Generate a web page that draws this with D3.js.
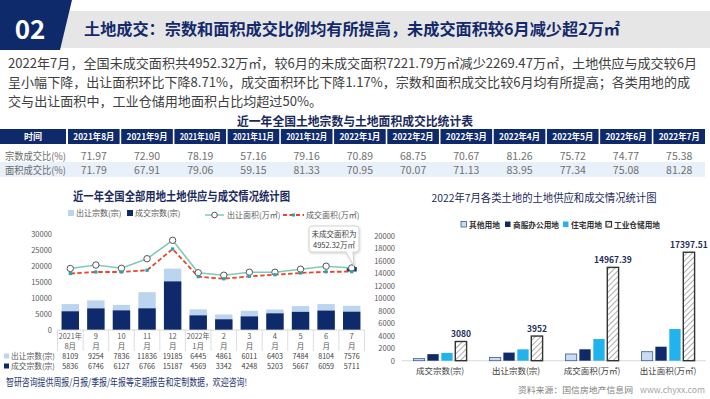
<!DOCTYPE html>
<html>
<head>
<meta charset="utf-8">
<script src="https://cdn.jsdelivr.net/npm/d3@7"></script>
<style>
  body { margin: 0; background: #fff; }
  text { font-family: "Noto Sans CJK SC", "Noto Sans", sans-serif; }
</style>
</head>
<body>
<script>
// ---- data ----
const tableMonths = ["2021年8月", "2021年9月", "2021年10月", "2021年11月", "2021年12月", "2022年1月",
  "2022年2月", "2022年3月", "2022年4月", "2022年5月", "2022年6月", "2022年7月"];
const countDealRatio = [71.97, 72.90, 78.19, 57.16, 79.16, 70.89, 68.75, 70.67, 81.26, 75.72, 74.77, 75.38];
const areaDealRatio = [71.79, 67.91, 79.06, 59.15, 81.33, 70.95, 70.07, 71.13, 83.95, 77.34, 75.08, 81.28];

const monthLabels = [["2021年", "8月"], ["9", "月"], ["10", "月"], ["11", "月"], ["12", "月"], ["2022年", "1月"],
  ["2", "月"], ["3", "月"], ["4", "月"], ["5", "月"], ["6", "月"], ["7", "月"]];
const supplyCount = [8109, 9254, 7836, 11836, 19185, 6445, 4861, 6011, 6403, 7484, 8104, 7576];
const dealCount = [5836, 6746, 6127, 6766, 15187, 4569, 3342, 4248, 5203, 5667, 6059, 5711];
// area lines, read against the left axis of the picture
const supplyArea = [19220, 20310, 19280, 22280, 28030, 17900, 17120, 18060, 18060, 19000, 19940, 19380];
const dealArea = [17660, 18125, 18125, 18660, 25310, 16660, 16000, 16780, 17280, 17810, 18190, 18220];

const landTypes = ["其他用地", "商服办公用地", "住宅用地", "工业仓储用地"];
const metrics = ["成交宗数(宗)", "出让宗数(宗)", "成交面积(万㎡)", "出让面积(万㎡)"];
const otherLand = [330, 500, 1074, 1442];
const commercialLand = [1050, 1300, 1827, 2244];
const residentialLand = [1250, 1824, 3477, 5080];
const industrialLand = [3080, 3952, 14967.39, 17397.51];

const navy = "#0f2a6b";
const gray = "#595959";

const svg = d3.select("body").append("svg").attr("width", 710).attr("height", 399);

// hatch pattern for industrial bars
const defs = svg.append("defs");
const hatch = defs.append("pattern")
  .attr("id", "hatch").attr("patternUnits", "userSpaceOnUse")
  .attr("width", 4).attr("height", 4).attr("patternTransform", "rotate(45)");
hatch.append("rect").attr("width", 4).attr("height", 4).attr("fill", "#fff");
hatch.append("line").attr("x1", 0).attr("y1", 0).attr("x2", 0).attr("y2", 4)
  .attr("stroke", "#8a8a8a").attr("stroke-width", 1.4);
const shadow = defs.append("filter").attr("id", "shadow").attr("x", "-20%").attr("y", "-20%")
  .attr("width", "140%").attr("height", "150%");
shadow.append("feDropShadow").attr("dx", 0.5).attr("dy", 1).attr("stdDeviation", 1)
  .attr("flood-color", "#000").attr("flood-opacity", 0.2);

// ---- header ----
svg.append("rect").attr("x", 55).attr("y", 11).attr("width", 655).attr("height", 37).attr("fill", "#e6e6e6");
svg.append("polygon").attr("points", "0,0 72,0 60,50 0,50").attr("fill", navy);
svg.append("text").attr("x", 30).attr("y", 39).attr("text-anchor", "middle")
  .style("font-size", "26px").style("font-weight", "bold").attr("fill", "#fff").text("02");
svg.append("text").attr("x", 84).attr("y", 35)
  .attr("textLength", 536).attr("lengthAdjust", "spacingAndGlyphs")
  .style("font-size", "16px").style("font-weight", "bold").attr("fill", "#13296b")
  .text("土地成交：宗数和面积成交比例均有所提高，未成交面积较6月减少超2万㎡");

const paragraph = [
  { t: "2022年7月，全国未成交面积共4952.32万㎡，较6月的未成交面积7221.79万㎡减少2269.47万㎡，土地供应与成交较6月", w: 689 },
  { t: "呈小幅下降，出让面积环比下降8.71%，成交面积环比下降1.17%，宗数和面积成交比较6月均有所提高；各类用地的成", w: 682 },
  { t: "交与出让面积中，工业仓储用地面积占比均超过50%。", w: 314 }
];
paragraph.forEach((p, i) => {
  svg.append("text").attr("x", 8).attr("y", 68 + i * 19)
    .attr("textLength", p.w).attr("lengthAdjust", "spacingAndGlyphs")
    .style("font-size", "13px").attr("fill", "#404040").text(p.t);
});

// ---- ratio table ----
svg.append("text").attr("x", 355).attr("y", 126).attr("text-anchor", "middle")
  .attr("textLength", 236).attr("lengthAdjust", "spacingAndGlyphs")
  .style("font-size", "12.5px").style("font-weight", "bold").attr("fill", "#1b2a5c")
  .text("近一年全国土地宗数与土地面积成交比统计表");

const tx = d3.scaleBand().domain(tableMonths).range([68, 705]).paddingInner(0.03);
svg.append("rect").attr("x", 0).attr("y", 162).attr("width", 705).attr("height", 15).attr("fill", "#e8f0fa");
svg.append("rect").attr("x", 0).attr("y", 129).attr("width", 66).attr("height", 15).attr("fill", navy);
svg.append("text").attr("x", 33).attr("y", 140).attr("text-anchor", "middle")
  .style("font-size", "9px").style("font-weight", "bold").attr("fill", "#fff").text("时间");
const th = svg.append("g").selectAll("g").data(tableMonths).enter().append("g");
th.append("rect").attr("x", (d) => tx(d)).attr("y", 129)
  .attr("width", tx.bandwidth()).attr("height", 15).attr("fill", navy);
th.append("text").attr("x", (d) => tx(d) + tx.bandwidth() / 2).attr("y", 140)
  .attr("text-anchor", "middle").style("font-size", "8.8px").style("font-weight", "bold")
  .attr("textLength", (d) => (d.length > 8 ? 46 : 41)).attr("lengthAdjust", "spacingAndGlyphs")
  .attr("fill", "#fff").text((d) => d);

[{ label: "宗数成交比(%)", vals: countDealRatio, y: 159.5 },
 { label: "面积成交比(%)", vals: areaDealRatio, y: 173.5 }].forEach((row) => {
  svg.append("text").attr("x", 5).attr("y", row.y)
    .attr("textLength", 61).attr("lengthAdjust", "spacingAndGlyphs")
    .style("font-size", "10px").attr("fill", "#6b6b6b").text(row.label);
  svg.append("g").selectAll("text").data(row.vals).enter().append("text")
    .attr("x", (d, i) => tx(tableMonths[i]) + tx.bandwidth() / 2).attr("y", row.y)
    .attr("text-anchor", "middle").style("font-size", "10.5px").attr("fill", "#707070")
    .text((d) => d.toFixed(2));
});

// ---- left chart ----
svg.append("text").attr("x", 181.5).attr("y", 201).attr("text-anchor", "middle")
  .attr("textLength", 217).attr("lengthAdjust", "spacingAndGlyphs")
  .style("font-size", "12px").style("font-weight", "bold").attr("fill", "#1b2a5c")
  .text("近一年全国全部用地土地供应与成交情况统计图");

const xL = d3.scaleBand().domain(d3.range(12)).range([57.5, 364.5]).paddingInner(0.32).paddingOuter(0.16);
const yL = d3.scaleLinear().domain([0, 30000]).range([330, 234]);
const cx = (i) => xL(i) + xL.bandwidth() / 2;

const axL = svg.append("g").attr("transform", "translate(53,0)")
  .call(d3.axisLeft(yL).tickValues(d3.range(0, 30001, 5000)).tickSize(0).tickPadding(1).tickFormat(d3.format("d")));
axL.select(".domain").remove();
axL.selectAll("text").style("font-size", "7.5px").attr("fill", gray)
  .style("font-family", "'Noto Sans CJK SC', sans-serif");

// legends
const lg = svg.append("g").style("font-size", "8px");
lg.append("rect").attr("x", 68).attr("y", 210).attr("width", 6).attr("height", 6).attr("fill", "#bcd5ee");
lg.append("text").attr("x", 76).attr("y", 216).attr("fill", gray).text("出让宗数(宗)");
lg.append("rect").attr("x", 127).attr("y", 210).attr("width", 6).attr("height", 6).attr("fill", navy);
lg.append("text").attr("x", 135).attr("y", 216).attr("fill", gray).text("成交宗数(宗)");
lg.append("line").attr("x1", 205).attr("x2", 224).attr("y1", 215).attr("y2", 215)
  .attr("stroke", "#7fcab6").attr("stroke-width", 1.5);
lg.append("circle").attr("cx", 214.5).attr("cy", 215).attr("r", 2.8)
  .attr("fill", "#fff").attr("stroke", "#555").attr("stroke-width", 1);
lg.append("text").attr("x", 227).attr("y", 218).attr("fill", gray).text("出让面积(万㎡)");
lg.append("line").attr("x1", 283).attr("x2", 304).attr("y1", 215).attr("y2", 215)
  .attr("stroke", "#e8452c").attr("stroke-width", 1.8).attr("stroke-dasharray", "4,2.5");
lg.append("rect").attr("x", 292).attr("y", 213.5).attr("width", 3).attr("height", 3).attr("fill", "#2aa3b3");
lg.append("text").attr("x", 306).attr("y", 218).attr("fill", gray).text("成交面积(万㎡)");

// bars (overlapping, both from zero)
svg.append("g").selectAll("rect").data(supplyCount).enter().append("rect")
  .attr("x", (d, i) => xL(i)).attr("y", (d) => yL(d))
  .attr("width", xL.bandwidth()).attr("height", (d) => yL(0) - yL(d)).attr("fill", "#bcd5ee");
svg.append("g").selectAll("rect").data(dealCount).enter().append("rect")
  .attr("x", (d, i) => xL(i)).attr("y", (d) => yL(d))
  .attr("width", xL.bandwidth()).attr("height", (d) => yL(0) - yL(d)).attr("fill", navy);

// small highlight at last point
svg.append("rect").attr("x", cx(11) - 5).attr("y", yL(supplyArea[11]) - 1)
  .attr("width", 10).attr("height", 4.5).attr("fill", navy);

// lines
const lineGen = d3.line().x((d, i) => cx(i)).y((d) => yL(d));
svg.append("path").datum(supplyArea).attr("d", lineGen)
  .attr("fill", "none").attr("stroke", "#7fcab6").attr("stroke-width", 1.6);
svg.append("path").datum(dealArea).attr("d", lineGen)
  .attr("fill", "none").attr("stroke", "#e8452c").attr("stroke-width", 1.8).attr("stroke-dasharray", "4.5,2.5");
svg.append("g").selectAll("circle").data(supplyArea).enter().append("circle")
  .attr("cx", (d, i) => cx(i)).attr("cy", (d) => yL(d)).attr("r", 3.2)
  .attr("fill", "#fff").attr("stroke", "#555").attr("stroke-width", 1);
svg.append("g").selectAll("rect").data(dealArea).enter().append("rect")
  .attr("x", (d, i) => cx(i) - 1.6).attr("y", (d) => yL(d) - 1.6)
  .attr("width", 3.2).attr("height", 3.2).attr("fill", "#2aa3b3");

// callout
const co = svg.append("g");
co.append("path")
  .attr("d", "M312,226 H356 Q359,226 359,229 V249 Q359,252 356,252 H353 L354,266 L346,252 H312 Q309,252 309,249 V229 Q309,226 312,226 Z")
  .attr("fill", "#fff").attr("stroke", "#c8c8c8").attr("stroke-width", 0.8).attr("filter", "url(#shadow)");
co.append("text").attr("x", 334).attr("y", 237).attr("text-anchor", "middle")
  .style("font-size", "7.5px").attr("fill", "#404040").text("未成交面积为");
co.append("text").attr("x", 334).attr("y", 248).attr("text-anchor", "middle")
  .style("font-size", "7.5px").attr("fill", "#404040").text("4952.32万㎡");

// data table under the left chart
const edges = d3.range(13).map((k) => 57.5 + k * xL.step());
svg.append("line").attr("x1", 57.5).attr("x2", 364.5).attr("y1", 330).attr("y2", 330)
  .attr("stroke", "#d0d0d0").attr("stroke-width", 0.8);
svg.append("g").selectAll("line").data(edges).enter().append("line")
  .attr("x1", (d) => d).attr("x2", (d) => d).attr("y1", 330).attr("y2", 351)
  .attr("stroke", "#d5d5d5").attr("stroke-width", 0.8);
const ml = svg.append("g").selectAll("g").data(monthLabels).enter().append("g");
ml.append("text").attr("x", (d, i) => cx(i)).attr("y", 339).attr("text-anchor", "middle")
  .attr("textLength", (d) => (d[0].length > 3 ? 23 : null)).attr("lengthAdjust", "spacingAndGlyphs")
  .style("font-size", "7.5px").attr("fill", gray).text((d) => d[0]);
ml.append("text").attr("x", (d, i) => cx(i)).attr("y", 349).attr("text-anchor", "middle")
  .style("font-size", "7.5px").attr("fill", gray).text((d) => d[1]);

[{ label: "出让宗数(宗)", color: "#bcd5ee", vals: supplyCount, y: 359 },
 { label: "成交宗数(宗)", color: navy, vals: dealCount, y: 369 }].forEach((row) => {
  svg.append("rect").attr("x", 4).attr("y", row.y - 5.5).attr("width", 5).attr("height", 5).attr("fill", row.color);
  svg.append("text").attr("x", 11).attr("y", row.y)
    .attr("textLength", 44).attr("lengthAdjust", "spacingAndGlyphs")
    .style("font-size", "7.5px").attr("fill", gray).text(row.label);
  svg.append("g").selectAll("text").data(row.vals).enter().append("text")
    .attr("x", (d, i) => cx(i)).attr("y", row.y).attr("text-anchor", "middle")
    .style("font-size", "7.2px").attr("fill", "#404040").text((d) => d);
});

// ---- right chart ----
svg.append("text").attr("x", 544).attr("y", 202).attr("text-anchor", "middle")
  .attr("textLength", 225).attr("lengthAdjust", "spacingAndGlyphs")
  .style("font-size", "11px").attr("fill", "#1b2a5c")
  .text("2022年7月各类土地的土地供应和成交情况统计图");

const series = [otherLand, commercialLand, residentialLand, industrialLand];
const fills = ["#c9dcf2", navy, "#22b3ef", "url(#hatch)"];
const strokes = ["#3c5a94", "none", "none", "#333"];
const strokeW = [0.8, 0, 0, 1.4];

const xR = d3.scaleBand().domain(metrics).range([402, 706]).paddingInner(0.3).paddingOuter(0.15);
const xT = d3.scaleBand().domain(landTypes).range([0, xR.bandwidth()]).paddingInner(0.19);
const yR = d3.scaleLinear().domain([0, 20000]).range([360.7, 236]);

const axR = svg.append("g").attr("transform", "translate(396,0)")
  .call(d3.axisLeft(yR).tickValues(d3.range(0, 20001, 2000)).tickSize(0).tickPadding(1).tickFormat(d3.format("d")));
axR.select(".domain").remove();
axR.selectAll("text").style("font-size", "7.5px").attr("fill", gray)
  .style("font-family", "'Noto Sans CJK SC', sans-serif");

svg.append("line").attr("x1", 402).attr("x2", 706).attr("y1", yR(0)).attr("y2", yR(0))
  .attr("stroke", "#d9d9d9").attr("stroke-width", 1);

// legend
const legR = [
  { x: 461, tw: 31 }, { x: 505, tw: 46 }, { x: 563, tw: 31 }, { x: 606, tw: 46 }
];
landTypes.forEach((t, k) => {
  svg.append("rect").attr("x", legR[k].x).attr("y", 221.5).attr("width", 5.5).attr("height", 5.5)
    .attr("fill", k === 3 ? "url(#hatch)" : fills[k])
    .attr("stroke", k === 0 ? "#3c5a94" : k === 3 ? "#333" : "none").attr("stroke-width", k === 3 ? 1.2 : 0.8);
  svg.append("text").attr("x", legR[k].x + 8).attr("y", 227.5)
    .attr("textLength", legR[k].tw).attr("lengthAdjust", "spacingAndGlyphs")
    .style("font-size", "8px").style("font-weight", "bold").attr("fill", "#333").text(t);
});

series.forEach((vals, k) => {
  svg.append("g").selectAll("rect").data(vals).enter().append("rect")
    .attr("x", (d, i) => xR(metrics[i]) + xT(landTypes[k]))
    .attr("y", (d) => yR(d))
    .attr("width", xT.bandwidth())
    .attr("height", (d) => yR(0) - yR(d))
    .attr("fill", fills[k]).attr("stroke", strokes[k]).attr("stroke-width", strokeW[k]);
});

svg.append("g").selectAll("text").data(industrialLand).enter().append("text")
  .attr("x", (d, i) => xR(metrics[i]) + xT(landTypes[3]) + xT.bandwidth() / 2)
  .attr("y", (d) => yR(d) - 4).attr("text-anchor", "middle")
  .style("font-size", "8.5px").style("font-weight", "bold").attr("fill", "#1f2d5a")
  .text((d) => (Number.isInteger(d) ? d : d.toFixed(2)));

svg.append("g").selectAll("text").data(metrics).enter().append("text")
  .attr("x", (d) => xR(d) + xR.bandwidth() / 2).attr("y", 374).attr("text-anchor", "middle")
  .style("font-size", "8.5px").attr("fill", "#404040").text((d) => d);

// ---- footer ----
svg.append("text").attr("x", 6).attr("y", 385.5)
  .attr("textLength", 241).attr("lengthAdjust", "spacingAndGlyphs")
  .style("font-size", "10px").attr("fill", "#1e3470")
  .text("智研咨询提供周报/月报/季报/年报等定期报告和定制数据，欢迎咨询!");
svg.append("text").attr("x", 518).attr("y", 393)
  .attr("textLength", 115).attr("lengthAdjust", "spacingAndGlyphs")
  .style("font-size", "8.5px").attr("fill", "#7f7f7f").text("资料来源：国信房地产信息网");
svg.append("text").attr("x", 640).attr("y", 393)
  .attr("textLength", 65).attr("lengthAdjust", "spacingAndGlyphs")
  .style("font-size", "8.5px").attr("fill", "#a6a6a6").text("www.chyxx.com");
</script>
</body>
</html>
